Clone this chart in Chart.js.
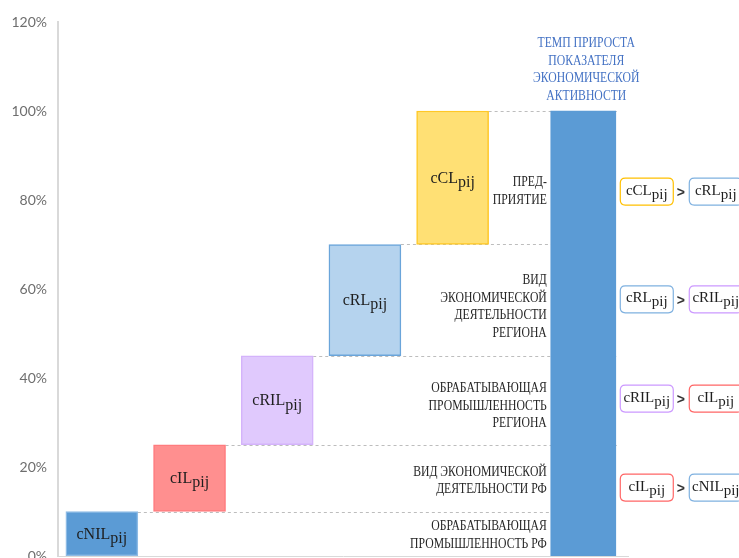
<!DOCTYPE html>
<html><head><meta charset="utf-8">
<script src="https://cdn.jsdelivr.net/npm/chart.js@4"></script>
<style>html,body{margin:0;padding:0;background:#fff}canvas{display:block}</style>
</head><body>
<canvas id="c" width="739" height="558"></canvas>
<script>
// ---- data ----
const stepNames = ['cNIL', 'cIL', 'cRIL', 'cRL', 'cCL'];
const subscript = 'pij';
const stepStart = [0, 0.10, 0.25, 0.45, 0.70];
const stepEnd = [0.10, 0.25, 0.45, 0.70, 1.00];
const stepSlots = [1, 2, 3, 4, 5];
const totalTitleLines = ['ТЕМП ПРИРОСТА', 'ПОКАЗАТЕЛЯ', 'ЭКОНОМИЧЕСКОЙ', 'АКТИВНОСТИ'];
const totalValue = 1.00;
const totalSlot = 6.49;
const levelLabels = [
  ['ОБРАБАТЫВАЮЩАЯ', 'ПРОМЫШЛЕННОСТЬ РФ'],
  ['ВИД ЭКОНОМИЧЕСКОЙ', 'ДЕЯТЕЛЬНОСТИ РФ'],
  ['ОБРАБАТЫВАЮЩАЯ', 'ПРОМЫШЛЕННОСТЬ', 'РЕГИОНА'],
  ['ВИД', 'ЭКОНОМИЧЕСКОЙ', 'ДЕЯТЕЛЬНОСТИ', 'РЕГИОНА'],
  ['ПРЕД-', 'ПРИЯТИЕ']
];
const levelLabelAt = [0.047, 0.169, 0.337, 0.56, 0.82];
const comparisons = [[4, 3], [3, 2], [2, 1], [1, 0]];
const comparisonAt = [0.82, 0.578, 0.355, 0.155];
const yTicks = [0, 0.2, 0.4, 0.6, 0.8, 1.0, 1.2];

// ---- styles ----
const fills = ['#5b9bd5', '#ff8f8f', '#e0c9fd', '#b5d3ee', '#ffe074'];
const borders = ['#8dbbe5', '#ff7b7e', '#d4b3fb', '#6aa5da', '#ffc826'];
const boxBorders = ['#7fb1e0', '#ff6666', '#cc99ff', '#7fb1e0', '#ffc000'];
const totalColor = '#5b9bd5';
const textFont = '"Liberation Sans", Arial, sans-serif';
const serifFont = '"Liberation Serif", "Times New Roman", serif';

function subText(ctx, main, sub, cx, cy, size) {
  ctx.save();
  ctx.font = size + 'px ' + serifFont;
  const w1 = ctx.measureText(main).width;
  const w2 = ctx.measureText(sub).width;
  const x = cx - (w1 + w2) / 2;
  ctx.textAlign = 'left';
  ctx.textBaseline = 'alphabetic';
  ctx.fillStyle = '#1e1e1e';
  const base = cy + size * 0.3;
  ctx.fillText(main, x, base);
  ctx.fillText(sub, x + w1, base + size * 0.28);
  ctx.restore();
}

function narrowText(ctx, text, x, y, align, color) {
  ctx.save();
  ctx.translate(x, y);
  ctx.scale(0.78, 1);
  ctx.font = '15px ' + serifFont;
  ctx.fillStyle = color;
  ctx.textAlign = align;
  ctx.textBaseline = 'middle';
  ctx.fillText(text, 0, 0);
  ctx.restore();
}

function roundRect(ctx, x, y, w, h, r) {
  ctx.beginPath();
  ctx.moveTo(x + r, y);
  ctx.lineTo(x + w - r, y);
  ctx.quadraticCurveTo(x + w, y, x + w, y + r);
  ctx.lineTo(x + w, y + h - r);
  ctx.quadraticCurveTo(x + w, y + h, x + w - r, y + h);
  ctx.lineTo(x + r, y + h);
  ctx.quadraticCurveTo(x, y + h, x, y + h - r);
  ctx.lineTo(x, y + r);
  ctx.quadraticCurveTo(x, y, x + r, y);
  ctx.closePath();
}

const decor = {
  id: 'decor',
  beforeDatasetsDraw(chart) {
    const ctx = chart.ctx;
    const ys = chart.scales.y;
    const steps = chart.getDatasetMeta(0).data;
    const tot = chart.getDatasetMeta(1).data[0];
    const xEnd = tot.x + tot.width / 2 + 1;
    ctx.save();
    ctx.strokeStyle = '#bdbdbd';
    ctx.lineWidth = 1;
    ctx.setLineDash([3, 3]);
    stepEnd.forEach((v, i) => {
      const y = Math.round(ys.getPixelForValue(v)) + 0.5;
      const b = steps[i];
      ctx.beginPath();
      ctx.moveTo(b.x + b.width / 2, y);
      ctx.lineTo(xEnd, y);
      ctx.stroke();
    });
    ctx.restore();
  },
  afterDatasetsDraw(chart) {
    const ctx = chart.ctx;
    const ys = chart.scales.y;
    const steps = chart.getDatasetMeta(0).data;
    const tot = chart.getDatasetMeta(1).data[0];
    stepNames.forEach((n, i) => {
      const b = steps[i];
      const cy = (ys.getPixelForValue(stepStart[i]) + ys.getPixelForValue(stepEnd[i])) / 2;
      subText(ctx, n, subscript, b.x, cy, 16);
    });
    const xr = tot.x - tot.width / 2 - 4;
    const lh = 17.5;
    levelLabels.forEach((lines, i) => {
      const cy = ys.getPixelForValue(levelLabelAt[i]);
      const y0 = cy - (lines.length - 1) * lh / 2;
      lines.forEach((l, k) => narrowText(ctx, l, xr, y0 + k * lh, 'right', '#262626'));
    });
    const topY = ys.getPixelForValue(totalValue);
    totalTitleLines.forEach((l, k) => {
      const y = topY - 15 - (totalTitleLines.length - 1 - k) * lh;
      narrowText(ctx, l, tot.x + 3, y, 'center', '#4472c4');
    });
    const bx1 = tot.x + tot.width / 2 + 4;
    const bw = 53, bh = 27;
    const bx2 = bx1 + 69;
    comparisons.forEach((pair, i) => {
      const cy = ys.getPixelForValue(comparisonAt[i]);
      [[pair[0], bx1], [pair[1], bx2]].forEach(([idx, bx]) => {
        ctx.save();
        roundRect(ctx, bx + 0.5, cy - bh / 2 + 0.5, bw, bh, 5);
        ctx.fillStyle = '#ffffff';
        ctx.fill();
        ctx.strokeStyle = boxBorders[idx];
        ctx.lineWidth = 1.2;
        ctx.stroke();
        ctx.restore();
        subText(ctx, stepNames[idx], subscript, bx + bw / 2 + 0.5, cy - 1, 15);
      });
      ctx.save();
      ctx.font = 'bold 14px ' + textFont;
      ctx.fillStyle = '#333333';
      ctx.textAlign = 'center';
      ctx.textBaseline = 'middle';
      ctx.fillText('>', bx1 + bw + 8, cy + 2);
      ctx.restore();
    });
  }
};

new Chart(document.getElementById('c'), {
  type: 'bar',
  data: {
    datasets: [
      {
        label: 'steps',
        data: stepSlots.map((s, i) => ({ x: s, y: [stepStart[i], stepEnd[i]] })),
        backgroundColor: fills,
        borderColor: borders,
        borderWidth: 1.5,
        borderSkipped: false,
        barThickness: 72,
        grouped: false
      },
      {
        label: 'total',
        data: [{ x: totalSlot, y: [0, totalValue] }],
        backgroundColor: totalColor,
        borderWidth: 0,
        barThickness: 65,
        grouped: false
      }
    ]
  },
  options: {
    responsive: false,
    animation: false,
    devicePixelRatio: 1,
    layout: { padding: { top: 22, right: 111, bottom: 2, left: 0 } },
    plugins: { legend: { display: false }, tooltip: { enabled: false } },
    scales: {
      x: {
        type: 'linear', min: 0.5, max: 7, offset: false,
        grid: { display: false, drawTicks: false },
        ticks: { display: false },
        border: { color: '#d9d9d9', width: 1 },
        afterFit(s) { s.height = 0; s.paddingLeft = 0; s.paddingRight = 0; }
      },
      y: {
        min: 0, max: 1.2,
        afterBuildTicks(s) { s.ticks = yTicks.map(v => ({ value: v })); },
        ticks: {
          callback: v => Math.round(v * 100) + '%',
          color: '#6e6e6e',
          font: { family: 'Lato', size: 14 },
          padding: 11
        },
        grid: { display: false, drawTicks: false },
        border: { color: '#d9d9d9', width: 2 },
        afterFit(s) { s.width = 58; s.paddingTop = 0; s.paddingBottom = 0; }
      }
    }
  },
  plugins: [decor]
});
</script>
</body></html>
